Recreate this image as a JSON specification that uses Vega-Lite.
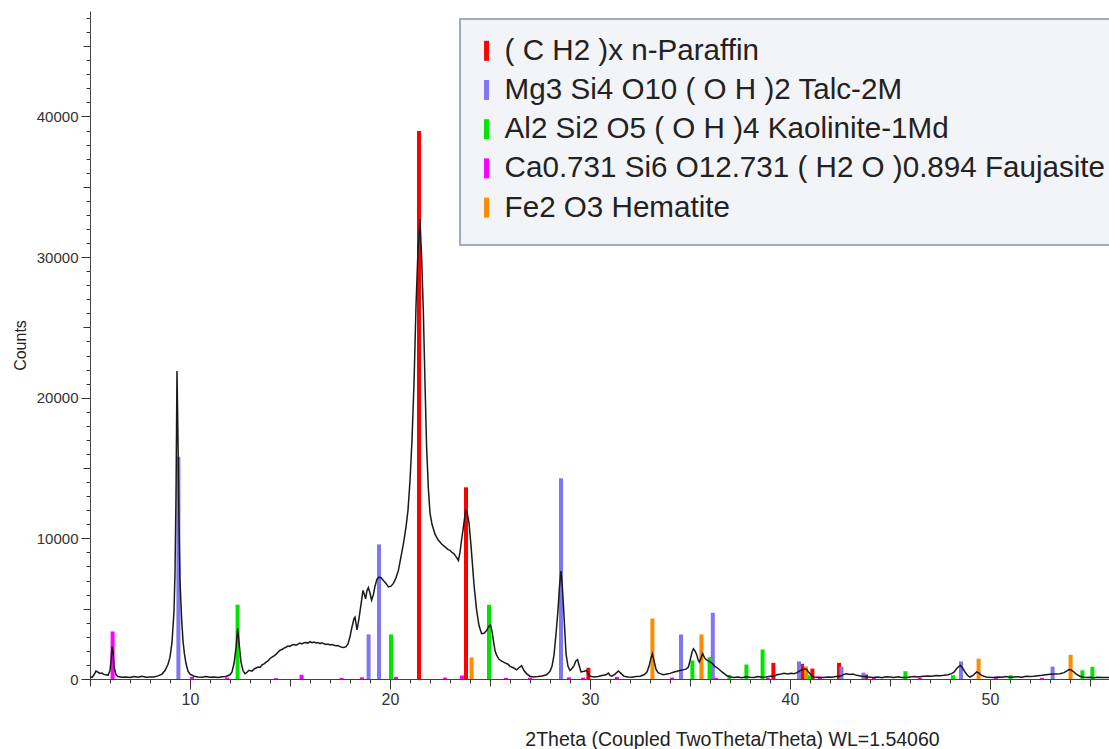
{
  "$schema": "https://vega.github.io/schema/vega-lite/v6.json",
  "autosize": "none",
  "padding": {"left": 90, "top": 11, "right": 0, "bottom": 70},
  "width": 1019,
  "height": 668,
  "background": "white",
  "config": {
    "view": {"stroke": null},
    "font": "Liberation Sans",
    "axis": {"domainColor": "#444", "tickColor": "#333", "labelColor": "#333", "titleColor": "#222", "grid": false, "labelFont": "Liberation Sans", "titleFont": "Liberation Sans"},
    "legend": {"strokeWidth": 2}
  },
  "datasets": {
    "sticks": [
      {"phase": "( C H2 )x n-Paraffin", "t": 21.45, "c": 38960},
      {"phase": "( C H2 )x n-Paraffin", "t": 23.8, "c": 13630},
      {"phase": "( C H2 )x n-Paraffin", "t": 29.92, "c": 800},
      {"phase": "( C H2 )x n-Paraffin", "t": 39.17, "c": 1150},
      {"phase": "( C H2 )x n-Paraffin", "t": 40.6, "c": 1080},
      {"phase": "( C H2 )x n-Paraffin", "t": 41.12, "c": 740},
      {"phase": "( C H2 )x n-Paraffin", "t": 42.45, "c": 1150},
      {"phase": "( C H2 )x n-Paraffin", "t": 43.8, "c": 320},
      {"phase": "Mg3 Si4 O10 ( O H )2 Talc-2M", "t": 9.42, "c": 15800},
      {"phase": "Mg3 Si4 O10 ( O H )2 Talc-2M", "t": 18.93, "c": 3170},
      {"phase": "Mg3 Si4 O10 ( O H )2 Talc-2M", "t": 19.45, "c": 9570},
      {"phase": "Mg3 Si4 O10 ( O H )2 Talc-2M", "t": 28.55, "c": 14270},
      {"phase": "Mg3 Si4 O10 ( O H )2 Talc-2M", "t": 34.55, "c": 3170},
      {"phase": "Mg3 Si4 O10 ( O H )2 Talc-2M", "t": 36.14, "c": 4710},
      {"phase": "Mg3 Si4 O10 ( O H )2 Talc-2M", "t": 40.45, "c": 1250},
      {"phase": "Mg3 Si4 O10 ( O H )2 Talc-2M", "t": 42.57, "c": 880},
      {"phase": "Mg3 Si4 O10 ( O H )2 Talc-2M", "t": 43.67, "c": 450},
      {"phase": "Mg3 Si4 O10 ( O H )2 Talc-2M", "t": 48.55, "c": 1250},
      {"phase": "Mg3 Si4 O10 ( O H )2 Talc-2M", "t": 53.13, "c": 880},
      {"phase": "Al2 Si2 O5 ( O H )4 Kaolinite-1Md", "t": 12.38, "c": 5280},
      {"phase": "Al2 Si2 O5 ( O H )4 Kaolinite-1Md", "t": 20.05, "c": 3170},
      {"phase": "Al2 Si2 O5 ( O H )4 Kaolinite-1Md", "t": 24.95, "c": 5280},
      {"phase": "Al2 Si2 O5 ( O H )4 Kaolinite-1Md", "t": 35.12, "c": 1320},
      {"phase": "Al2 Si2 O5 ( O H )4 Kaolinite-1Md", "t": 35.98, "c": 1550},
      {"phase": "Al2 Si2 O5 ( O H )4 Kaolinite-1Md", "t": 36.97, "c": 280},
      {"phase": "Al2 Si2 O5 ( O H )4 Kaolinite-1Md", "t": 37.82, "c": 1030},
      {"phase": "Al2 Si2 O5 ( O H )4 Kaolinite-1Md", "t": 38.63, "c": 2100},
      {"phase": "Al2 Si2 O5 ( O H )4 Kaolinite-1Md", "t": 40.95, "c": 260},
      {"phase": "Al2 Si2 O5 ( O H )4 Kaolinite-1Md", "t": 45.77, "c": 550},
      {"phase": "Al2 Si2 O5 ( O H )4 Kaolinite-1Md", "t": 48.15, "c": 270},
      {"phase": "Al2 Si2 O5 ( O H )4 Kaolinite-1Md", "t": 51.03, "c": 260},
      {"phase": "Al2 Si2 O5 ( O H )4 Kaolinite-1Md", "t": 54.62, "c": 620},
      {"phase": "Al2 Si2 O5 ( O H )4 Kaolinite-1Md", "t": 55.12, "c": 870},
      {"phase": "Ca0.731 Si6 O12.731 ( H2 O )0.894 Faujasite", "t": 6.13, "c": 3380},
      {"phase": "Ca0.731 Si6 O12.731 ( H2 O )0.894 Faujasite", "t": 10.1, "c": 150},
      {"phase": "Ca0.731 Si6 O12.731 ( H2 O )0.894 Faujasite", "t": 11.85, "c": 100},
      {"phase": "Ca0.731 Si6 O12.731 ( H2 O )0.894 Faujasite", "t": 14.3, "c": 60},
      {"phase": "Ca0.731 Si6 O12.731 ( H2 O )0.894 Faujasite", "t": 15.58, "c": 300},
      {"phase": "Ca0.731 Si6 O12.731 ( H2 O )0.894 Faujasite", "t": 17.58, "c": 80},
      {"phase": "Ca0.731 Si6 O12.731 ( H2 O )0.894 Faujasite", "t": 18.6, "c": 120},
      {"phase": "Ca0.731 Si6 O12.731 ( H2 O )0.894 Faujasite", "t": 20.3, "c": 150},
      {"phase": "Ca0.731 Si6 O12.731 ( H2 O )0.894 Faujasite", "t": 22.75, "c": 100},
      {"phase": "Ca0.731 Si6 O12.731 ( H2 O )0.894 Faujasite", "t": 23.6, "c": 250},
      {"phase": "Ca0.731 Si6 O12.731 ( H2 O )0.894 Faujasite", "t": 25.8, "c": 80},
      {"phase": "Ca0.731 Si6 O12.731 ( H2 O )0.894 Faujasite", "t": 27.0, "c": 100},
      {"phase": "Ca0.731 Si6 O12.731 ( H2 O )0.894 Faujasite", "t": 28.95, "c": 120},
      {"phase": "Ca0.731 Si6 O12.731 ( H2 O )0.894 Faujasite", "t": 29.65, "c": 100},
      {"phase": "Ca0.731 Si6 O12.731 ( H2 O )0.894 Faujasite", "t": 31.35, "c": 150},
      {"phase": "Ca0.731 Si6 O12.731 ( H2 O )0.894 Faujasite", "t": 34.1, "c": 100},
      {"phase": "Ca0.731 Si6 O12.731 ( H2 O )0.894 Faujasite", "t": 36.3, "c": 80},
      {"phase": "Ca0.731 Si6 O12.731 ( H2 O )0.894 Faujasite", "t": 38.9, "c": 80},
      {"phase": "Ca0.731 Si6 O12.731 ( H2 O )0.894 Faujasite", "t": 41.5, "c": 80},
      {"phase": "Ca0.731 Si6 O12.731 ( H2 O )0.894 Faujasite", "t": 44.2, "c": 80},
      {"phase": "Ca0.731 Si6 O12.731 ( H2 O )0.894 Faujasite", "t": 46.5, "c": 80},
      {"phase": "Ca0.731 Si6 O12.731 ( H2 O )0.894 Faujasite", "t": 50.3, "c": 80},
      {"phase": "Ca0.731 Si6 O12.731 ( H2 O )0.894 Faujasite", "t": 52.6, "c": 80},
      {"phase": "Fe2 O3 Hematite", "t": 24.08, "c": 1530},
      {"phase": "Fe2 O3 Hematite", "t": 33.12, "c": 4300},
      {"phase": "Fe2 O3 Hematite", "t": 35.57, "c": 3170},
      {"phase": "Fe2 O3 Hematite", "t": 40.8, "c": 890},
      {"phase": "Fe2 O3 Hematite", "t": 49.43, "c": 1440},
      {"phase": "Fe2 O3 Hematite", "t": 54.03, "c": 1720}
    ],
    "trace": [
      {"t":5.0,"c":150},{"t":5.1,"c":120},{"t":5.2,"c":300},{"t":5.3,"c":560},{"t":5.4,"c":480},{"t":5.5,"c":400},{"t":5.6,"c":420},{"t":5.7,"c":330},{"t":5.8,"c":300},{"t":5.9,"c":260},
      {"t":6.0,"c":600},{"t":6.05,"c":1300},{"t":6.1,"c":2300},{"t":6.15,"c":2000},{"t":6.2,"c":900},{"t":6.3,"c":300},{"t":6.4,"c":180},{"t":6.6,"c":120},{"t":6.8,"c":150},{"t":7.0,"c":110},
      {"t":7.2,"c":180},{"t":7.4,"c":120},{"t":7.6,"c":200},{"t":7.8,"c":130},{"t":8.0,"c":150},{"t":8.2,"c":140},{"t":8.4,"c":220},{"t":8.6,"c":350},{"t":8.75,"c":600},{"t":8.9,"c":1050},
      {"t":9.0,"c":1550},{"t":9.1,"c":2600},{"t":9.2,"c":4800},{"t":9.25,"c":7500},{"t":9.3,"c":13000},{"t":9.35,"c":21900},{"t":9.4,"c":17000},{"t":9.45,"c":11000},{"t":9.5,"c":7000},{"t":9.58,"c":4300},
      {"t":9.65,"c":2700},{"t":9.72,"c":1800},{"t":9.8,"c":1100},{"t":9.9,"c":550},{"t":10.0,"c":350},{"t":10.2,"c":200},{"t":10.4,"c":150},{"t":10.6,"c":120},{"t":10.8,"c":180},{"t":11.0,"c":130},
      {"t":11.2,"c":150},{"t":11.4,"c":110},{"t":11.6,"c":160},{"t":11.8,"c":180},{"t":12.0,"c":300},{"t":12.1,"c":500},{"t":12.2,"c":1100},{"t":12.3,"c":2200},{"t":12.38,"c":3600},{"t":12.45,"c":2600},
      {"t":12.55,"c":1200},{"t":12.65,"c":600},{"t":12.75,"c":380},{"t":12.85,"c":480},{"t":12.95,"c":620},{"t":13.1,"c":560},{"t":13.2,"c":700},{"t":13.3,"c":780},{"t":13.4,"c":850},{"t":13.5,"c":820},
      {"t":13.6,"c":1000},{"t":13.7,"c":1080},{"t":13.8,"c":1200},{"t":13.9,"c":1280},{"t":14.0,"c":1460},{"t":14.1,"c":1550},{"t":14.2,"c":1650},{"t":14.3,"c":1750},{"t":14.4,"c":1900},{"t":14.5,"c":2050},
      {"t":14.6,"c":2100},{"t":14.7,"c":2200},{"t":14.8,"c":2260},{"t":14.9,"c":2350},{"t":15.0,"c":2320},{"t":15.1,"c":2420},{"t":15.2,"c":2450},{"t":15.3,"c":2400},{"t":15.4,"c":2480},{"t":15.5,"c":2550},
      {"t":15.6,"c":2500},{"t":15.7,"c":2580},{"t":15.8,"c":2600},{"t":15.9,"c":2550},{"t":16.0,"c":2650},{"t":16.1,"c":2580},{"t":16.2,"c":2620},{"t":16.3,"c":2560},{"t":16.4,"c":2600},{"t":16.5,"c":2520},
      {"t":16.6,"c":2580},{"t":16.7,"c":2500},{"t":16.8,"c":2460},{"t":16.9,"c":2480},{"t":17.0,"c":2420},{"t":17.1,"c":2450},{"t":17.2,"c":2400},{"t":17.3,"c":2360},{"t":17.4,"c":2380},{"t":17.5,"c":2300},
      {"t":17.6,"c":2260},{"t":17.7,"c":2240},{"t":17.8,"c":2300},{"t":17.9,"c":2500},{"t":18.0,"c":3000},{"t":18.1,"c":3700},{"t":18.2,"c":4300},{"t":18.25,"c":4400},{"t":18.35,"c":3500},{"t":18.45,"c":4300},
      {"t":18.55,"c":5300},{"t":18.65,"c":6300},{"t":18.72,"c":6000},{"t":18.78,"c":5700},{"t":18.85,"c":6300},{"t":18.92,"c":6500},{"t":19.0,"c":6100},{"t":19.08,"c":5600},{"t":19.17,"c":6000},{"t":19.25,"c":6600},
      {"t":19.35,"c":7100},{"t":19.45,"c":7250},{"t":19.55,"c":7200},{"t":19.67,"c":7000},{"t":19.8,"c":6800},{"t":19.92,"c":6550},{"t":20.05,"c":6600},{"t":20.17,"c":6800},{"t":20.3,"c":7200},{"t":20.42,"c":7720},
      {"t":20.55,"c":8700},{"t":20.67,"c":9600},{"t":20.8,"c":10800},{"t":20.9,"c":12000},{"t":21.0,"c":14100},{"t":21.1,"c":17000},{"t":21.2,"c":21000},{"t":21.3,"c":26500},{"t":21.4,"c":30500},{"t":21.5,"c":32700},
      {"t":21.58,"c":30000},{"t":21.67,"c":26000},{"t":21.75,"c":21000},{"t":21.83,"c":16500},{"t":21.92,"c":13500},{"t":22.0,"c":11800},{"t":22.1,"c":11000},{"t":22.25,"c":10300},{"t":22.4,"c":9900},{"t":22.58,"c":9600},
      {"t":22.75,"c":9400},{"t":22.9,"c":9200},{"t":23.0,"c":9150},{"t":23.1,"c":9000},{"t":23.2,"c":8900},{"t":23.3,"c":8700},{"t":23.42,"c":8430},{"t":23.5,"c":9000},{"t":23.58,"c":9900},{"t":23.68,"c":10900},
      {"t":23.78,"c":12000},{"t":23.85,"c":11900},{"t":23.95,"c":11100},{"t":24.05,"c":9500},{"t":24.12,"c":8200},{"t":24.2,"c":6700},{"t":24.33,"c":4900},{"t":24.45,"c":3800},{"t":24.58,"c":3220},{"t":24.7,"c":3250},
      {"t":24.83,"c":3450},{"t":24.92,"c":3700},{"t":25.03,"c":3850},{"t":25.1,"c":3400},{"t":25.17,"c":2750},{"t":25.25,"c":2000},{"t":25.33,"c":1700},{"t":25.45,"c":1400},{"t":25.6,"c":1250},{"t":25.75,"c":1150},
      {"t":25.9,"c":1050},{"t":26.0,"c":900},{"t":26.17,"c":800},{"t":26.33,"c":650},{"t":26.45,"c":800},{"t":26.58,"c":950},{"t":26.7,"c":600},{"t":26.85,"c":350},{"t":27.0,"c":200},{"t":27.17,"c":150},
      {"t":27.4,"c":180},{"t":27.6,"c":220},{"t":27.83,"c":300},{"t":28.0,"c":550},{"t":28.1,"c":900},{"t":28.2,"c":1700},{"t":28.3,"c":3200},{"t":28.4,"c":4900},{"t":28.47,"c":6500},{"t":28.55,"c":7700},
      {"t":28.62,"c":6500},{"t":28.7,"c":4500},{"t":28.8,"c":1800},{"t":28.9,"c":900},{"t":29.0,"c":600},{"t":29.1,"c":750},{"t":29.2,"c":950},{"t":29.3,"c":1300},{"t":29.38,"c":1370},{"t":29.45,"c":1000},
      {"t":29.55,"c":500},{"t":29.7,"c":550},{"t":29.83,"c":600},{"t":29.92,"c":350},{"t":30.0,"c":200},{"t":30.2,"c":150},{"t":30.4,"c":180},{"t":30.6,"c":250},{"t":30.8,"c":300},{"t":30.92,"c":420},
      {"t":31.0,"c":250},{"t":31.1,"c":200},{"t":31.25,"c":350},{"t":31.42,"c":570},{"t":31.55,"c":400},{"t":31.7,"c":200},{"t":31.9,"c":150},{"t":32.1,"c":130},{"t":32.3,"c":170},{"t":32.5,"c":200},
      {"t":32.7,"c":300},{"t":32.85,"c":500},{"t":32.95,"c":900},{"t":33.05,"c":1500},{"t":33.12,"c":1800},{"t":33.2,"c":1300},{"t":33.3,"c":700},{"t":33.4,"c":450},{"t":33.5,"c":380},{"t":33.67,"c":300},
      {"t":33.85,"c":360},{"t":34.0,"c":400},{"t":34.17,"c":480},{"t":34.35,"c":550},{"t":34.5,"c":600},{"t":34.65,"c":650},{"t":34.8,"c":700},{"t":34.92,"c":850},{"t":35.0,"c":1300},{"t":35.1,"c":1900},
      {"t":35.17,"c":2150},{"t":35.25,"c":2000},{"t":35.33,"c":1750},{"t":35.42,"c":1300},{"t":35.47,"c":1200},{"t":35.55,"c":1500},{"t":35.63,"c":1800},{"t":35.73,"c":1500},{"t":35.83,"c":1350},{"t":35.95,"c":1250},
      {"t":36.08,"c":1150},{"t":36.25,"c":900},{"t":36.42,"c":730},{"t":36.6,"c":500},{"t":36.83,"c":250},{"t":37.0,"c":150},{"t":37.2,"c":100},{"t":37.4,"c":140},{"t":37.6,"c":90},{"t":37.8,"c":160},
      {"t":38.0,"c":120},{"t":38.2,"c":100},{"t":38.4,"c":180},{"t":38.6,"c":130},{"t":38.8,"c":150},{"t":39.0,"c":200},{"t":39.17,"c":190},{"t":39.35,"c":300},{"t":39.5,"c":330},{"t":39.7,"c":400},
      {"t":39.9,"c":350},{"t":40.05,"c":400},{"t":40.2,"c":380},{"t":40.35,"c":450},{"t":40.5,"c":600},{"t":40.6,"c":650},{"t":40.75,"c":730},{"t":40.85,"c":650},{"t":40.92,"c":500},{"t":41.05,"c":300},
      {"t":41.17,"c":140},{"t":41.4,"c":120},{"t":41.67,"c":100},{"t":41.9,"c":150},{"t":42.1,"c":130},{"t":42.3,"c":180},{"t":42.5,"c":190},{"t":42.7,"c":330},{"t":42.83,"c":380},{"t":43.0,"c":320},
      {"t":43.15,"c":350},{"t":43.33,"c":260},{"t":43.6,"c":200},{"t":43.9,"c":150},{"t":44.17,"c":100},{"t":44.4,"c":140},{"t":44.6,"c":90},{"t":44.8,"c":160},{"t":45.0,"c":140},{"t":45.2,"c":100},
      {"t":45.4,"c":160},{"t":45.6,"c":110},{"t":45.83,"c":100},{"t":46.0,"c":150},{"t":46.2,"c":180},{"t":46.4,"c":140},{"t":46.67,"c":190},{"t":46.9,"c":220},{"t":47.1,"c":190},{"t":47.3,"c":250},
      {"t":47.5,"c":240},{"t":47.7,"c":260},{"t":47.9,"c":300},{"t":48.08,"c":380},{"t":48.2,"c":480},{"t":48.33,"c":730},{"t":48.45,"c":900},{"t":48.53,"c":960},{"t":48.62,"c":800},{"t":48.75,"c":500},
      {"t":48.88,"c":250},{"t":49.0,"c":140},{"t":49.15,"c":250},{"t":49.33,"c":500},{"t":49.45,"c":420},{"t":49.58,"c":260},{"t":49.8,"c":150},{"t":50.0,"c":120},{"t":50.17,"c":100},{"t":50.4,"c":150},
      {"t":50.6,"c":120},{"t":50.8,"c":170},{"t":51.0,"c":130},{"t":51.17,"c":140},{"t":51.4,"c":160},{"t":51.6,"c":120},{"t":51.8,"c":200},{"t":52.0,"c":170},{"t":52.17,"c":190},{"t":52.4,"c":230},
      {"t":52.6,"c":260},{"t":52.8,"c":300},{"t":53.0,"c":330},{"t":53.2,"c":350},{"t":53.5,"c":380},{"t":53.7,"c":450},{"t":53.83,"c":560},{"t":53.95,"c":680},{"t":54.03,"c":660},{"t":54.15,"c":550},
      {"t":54.33,"c":330},{"t":54.5,"c":200},{"t":54.7,"c":130},{"t":54.83,"c":100},{"t":55.0,"c":130},{"t":55.2,"c":90},{"t":55.4,"c":120},{"t":55.6,"c":100},{"t":55.83,"c":100},{"t":55.95,"c":110}
    ]
  },
  "encoding": {
    "x": {
      "field": "t", "type": "quantitative",
      "scale": {"domain": [5, 55.95], "nice": false, "zero": false},
      "axis": {
        "values": [5,6,7,8,9,10,11,12,13,14,15,16,17,18,19,20,21,22,23,24,25,26,27,28,29,30,31,32,33,34,35,36,37,38,39,40,41,42,43,44,45,46,47,48,49,50,51,52,53,54,55],
        "tickSize": {"condition": [{"test": "datum.value % 10 === 0", "value": 10}, {"test": "datum.value % 5 === 0", "value": 7}], "value": 4},
        "labelExpr": "datum.value % 10 === 0 ? datum.label : ''",
        "labelOverlap": false, "labelFlush": false,
        "labelFontSize": 16, "labelPadding": 2,
        "title": "2Theta (Coupled TwoTheta/Theta) WL=1.54060",
        "titleFontSize": 19.5, "titleFontWeight": "normal",
        "titleX": 642, "titleY": 51, "titleBaseline": "top", "titleAnchor": "middle"
      }
    },
    "y": {
      "field": "c", "type": "quantitative",
      "scale": {"domain": [0, 47500], "nice": false},
      "axis": {
        "values": [0,1000,2000,3000,4000,5000,6000,7000,8000,9000,10000,11000,12000,13000,14000,15000,16000,17000,18000,19000,20000,21000,22000,23000,24000,25000,26000,27000,28000,29000,30000,31000,32000,33000,34000,35000,36000,37000,38000,39000,40000,41000,42000,43000,44000,45000,46000,47000],
        "tickSize": {"condition": [{"test": "datum.value % 10000 === 0", "value": 9}, {"test": "datum.value % 5000 === 0", "value": 7}], "value": 4},
        "labelExpr": "datum.value % 10000 === 0 ? datum.value : ''",
        "labelOverlap": false, "labelFlush": false,
        "labelFontSize": 15, "labelPadding": 3,
        "title": "Counts", "titleFontSize": 16, "titleFontWeight": "normal", "titlePadding": 8
      }
    }
  },
  "layer": [
    {
      "data": {"name": "sticks"},
      "mark": {"type": "rule", "strokeWidth": 4, "clip": true},
      "encoding": {
        "y2": {"datum": 0},
        "color": {
          "field": "phase", "type": "nominal",
          "scale": {
            "domain": ["( C H2 )x n-Paraffin", "Mg3 Si4 O10 ( O H )2 Talc-2M", "Al2 Si2 O5 ( O H )4 Kaolinite-1Md", "Ca0.731 Si6 O12.731 ( H2 O )0.894 Faujasite", "Fe2 O3 Hematite"],
            "range": ["#ff0000", "#7f76f2", "#00e400", "#ff00ff", "#ff8c00"]
          },
          "legend": {
            "title": null, "orient": "none", "legendX": 370, "legendY": 8,
            "padding": 17, "rowPadding": -1.8,
            "symbolType": "M-0.525,-1V1", "symbolSize": 400, "symbolStrokeWidth": 5, "symbolOpacity": 1,
            "labelFont": "Liberation Sans", "labelFontSize": 29.6, "labelColor": "#222", "labelOffset": -2, "labelLimit": 900,
            "fillColor": "#f3f4f7", "strokeColor": "#a4abb8"
          }
        }
      }
    },
    {
      "data": {"name": "trace"},
      "mark": {"type": "line", "color": "#1a1a1a", "strokeWidth": 1.5, "clip": true},
      "encoding": {}
    }
  ]
}
